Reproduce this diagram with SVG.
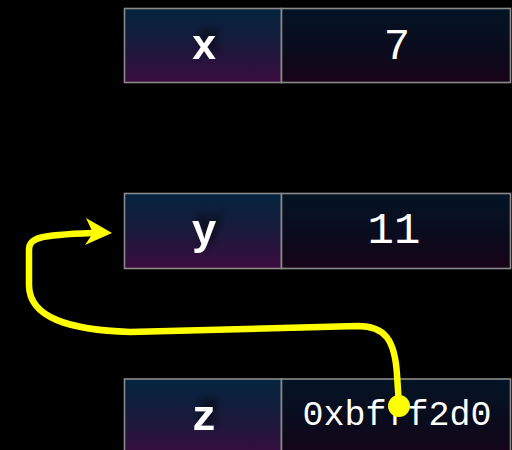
<svg xmlns="http://www.w3.org/2000/svg" width="512" height="450" viewBox="0 0 512 450">
  <defs>
    <linearGradient id="gName" x1="0" y1="0" x2="0" y2="1">
      <stop offset="0" stop-color="#04243f"/>
      <stop offset="0.5" stop-color="#1a1a3c"/>
      <stop offset="1" stop-color="#3a0a3e"/>
    </linearGradient>
    <linearGradient id="gVal" x1="0" y1="0" x2="0" y2="1">
      <stop offset="0" stop-color="#031424"/>
      <stop offset="0.5" stop-color="#0a0c1e"/>
      <stop offset="1" stop-color="#180318"/>
    </linearGradient>
    <filter id="shadow" x="-50%" y="-50%" width="200%" height="200%">
      <feDropShadow dx="5" dy="-7" stdDeviation="5" flood-color="#000" flood-opacity="0.75"/>
    </filter>
  </defs>
  <style>
    .name { fill: url(#gName); stroke: #8a8a8a; stroke-width: 1.6; }
    .val { fill: url(#gVal); stroke: #8a8a8a; stroke-width: 1.6; }
    .lbl { font-family: "Courier New", "Nimbus Mono PS", "FreeMono", "Liberation Mono", monospace; font-weight: bold; font-size: 42px; fill: #ffffff; text-anchor: middle; }
    .num { font-family: "Courier New", "Nimbus Mono PS", "FreeMono", "Liberation Mono", monospace; font-size: 44px; fill: #ffffff; text-anchor: middle; }
    .addr { font-family: "Courier New", "Nimbus Mono PS", "FreeMono", "Liberation Mono", monospace; font-size: 35px; fill: #ffffff; text-anchor: middle; }
    .ptr { fill: none; stroke: #ffff00; stroke-width: 6.5; stroke-linecap: round; stroke-linejoin: round; }
  </style>
  <rect width="512" height="450" fill="#000"/>

  <g id="node-x">
    <rect class="name" x="124.5" y="8.5" width="157" height="74"/>
    <rect class="val" x="281.5" y="8.5" width="229" height="74"/>
    <text class="lbl" x="204" y="59" filter="url(#shadow)">x</text>
    <text class="num" x="397" y="59">7</text>
  </g>

  <g id="node-y">
    <rect class="name" x="124.5" y="193.5" width="157" height="75"/>
    <rect class="val" x="281.5" y="193.5" width="229" height="75"/>
    <text class="lbl" x="204" y="244" filter="url(#shadow)">y</text>
    <text class="num" x="394" y="243">11</text>
  </g>

  <g id="node-z">
    <rect class="name" x="124.5" y="379" width="157" height="80"/>
    <rect class="val" x="281.5" y="379" width="229" height="80"/>
    <text class="lbl" x="204" y="430" filter="url(#shadow)">z</text>
    <text class="addr" x="397" y="425">0xbfff2d0</text>
  </g>

  <g id="connectors">
    <path class="ptr" d="M 399 405 L 397 375 C 395 340 385 326 358 326 L 130 332 C 70 330 29 318 29 285 L 29 250 C 29 238 38 235 92 233"/>
    <polygon points="112,233 86,218 93,233 85,245" fill="#ffff00"/>
    <circle cx="399" cy="406" r="11" fill="#ffff00"/>
  </g>
</svg>
